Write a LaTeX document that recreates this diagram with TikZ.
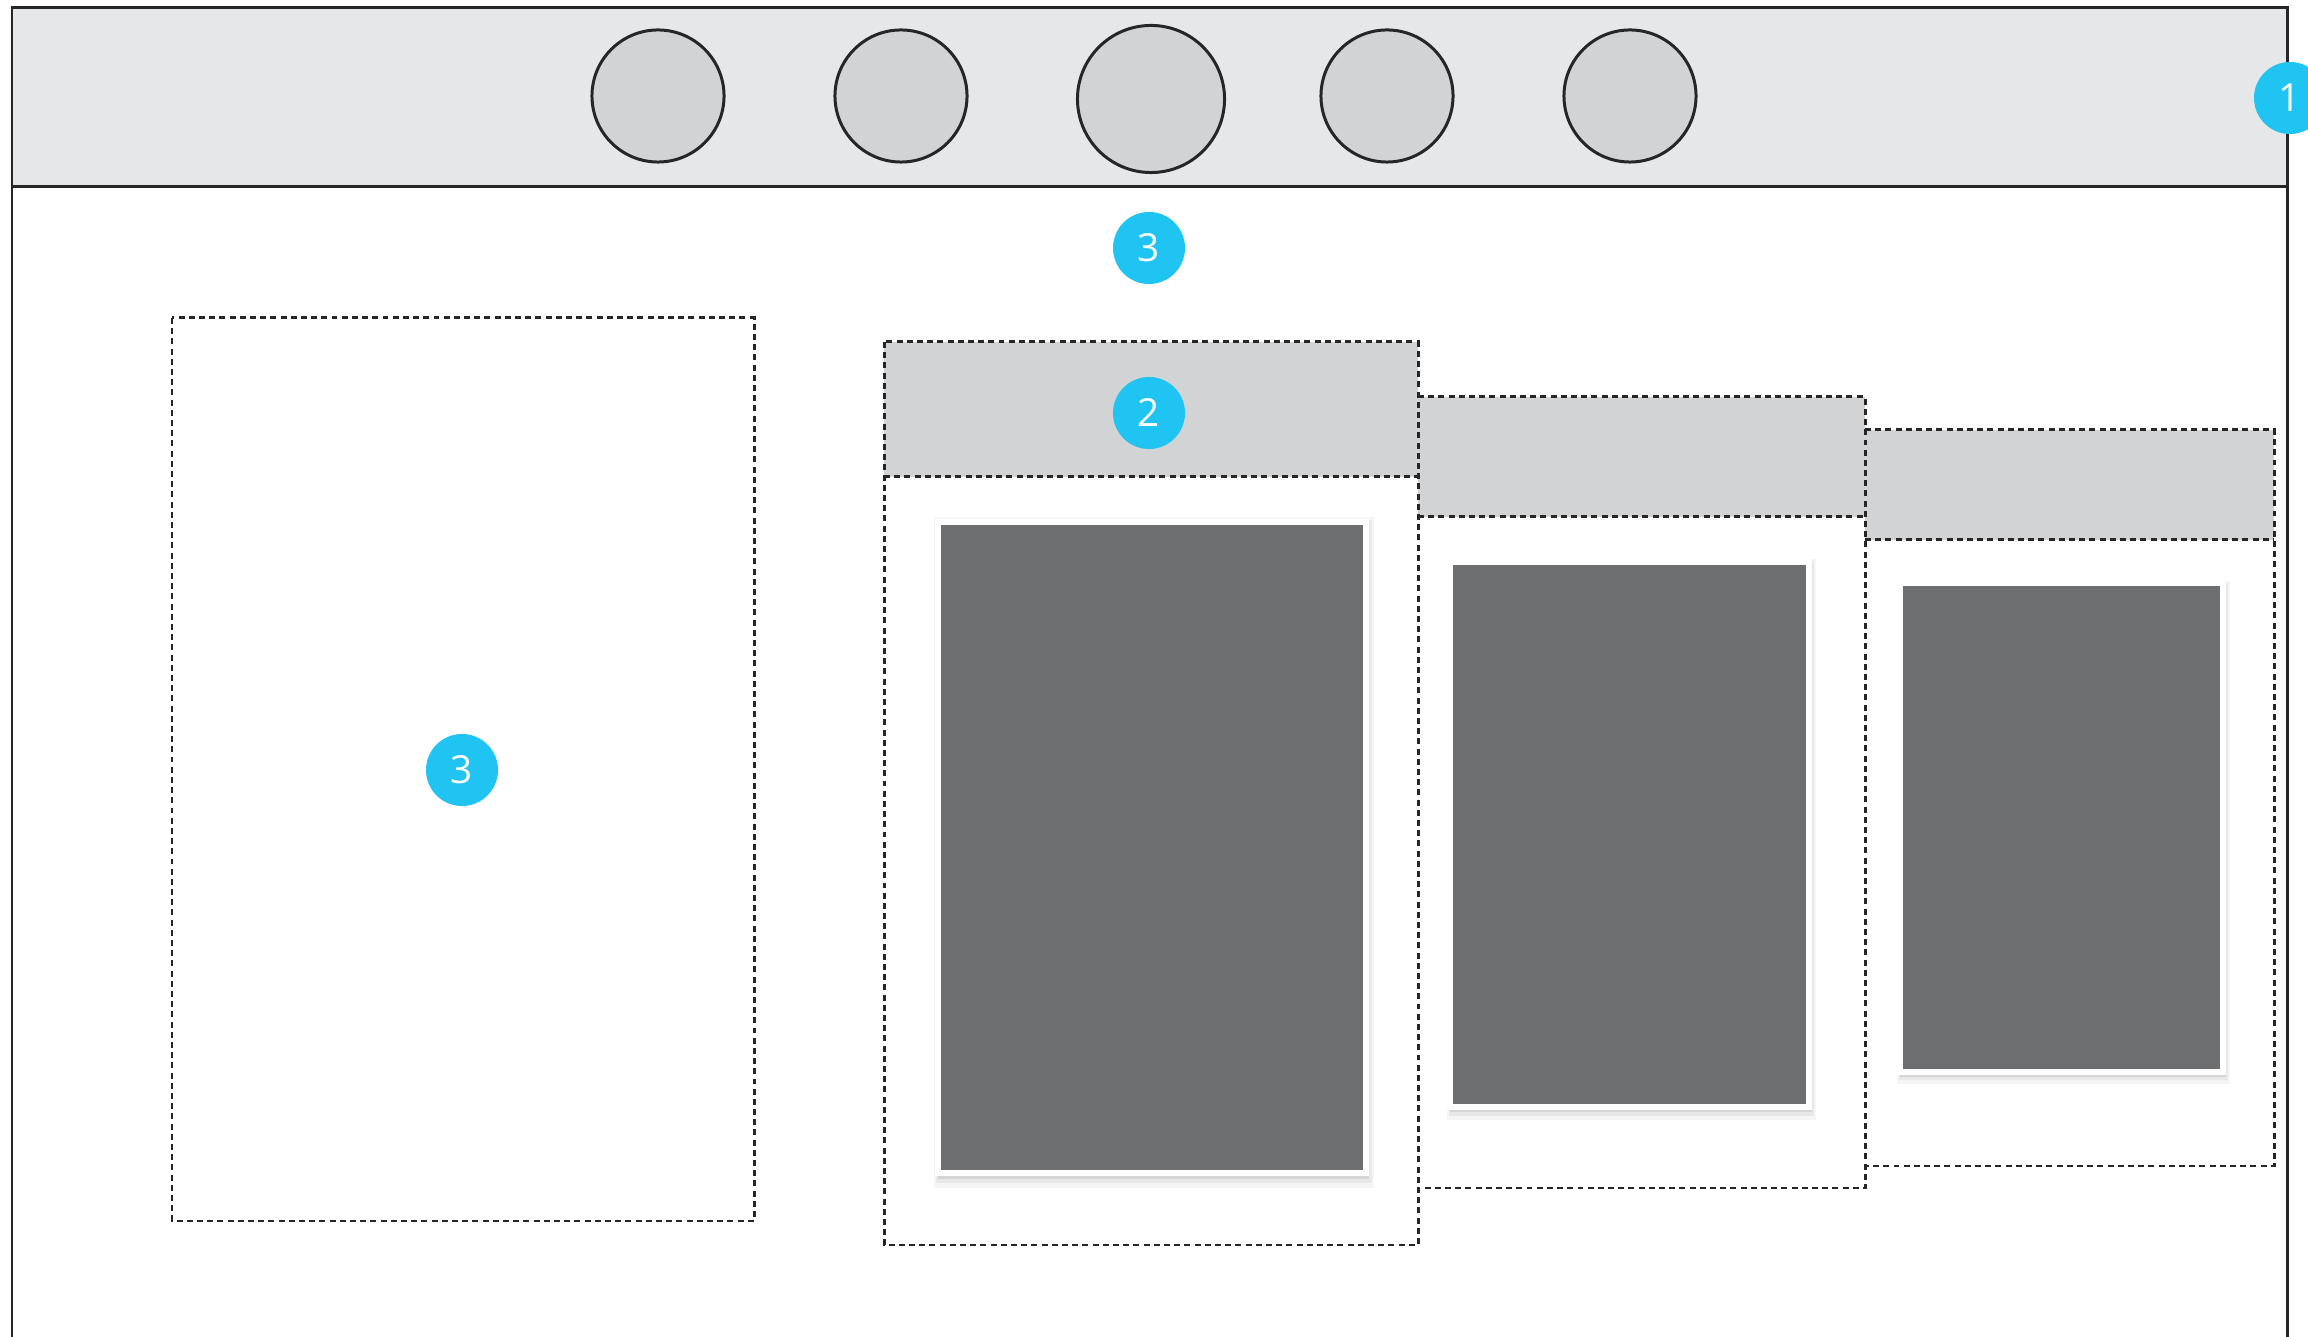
\documentclass[tikz,border=0pt]{standalone}
\usepackage{fontspec}
\setsansfont{Open Sans}
\usetikzlibrary{shadows}
\definecolor{barbg}{HTML}{E6E7E8}
\definecolor{tabbg}{HTML}{D1D3D4}
\definecolor{picbg}{HTML}{6D6E70}
\definecolor{callout}{HTML}{20C4F2}
\begin{document}
\begin{tikzpicture}[x=0.01cm,y=-0.01cm,
  frm/.style={draw=black!85,line width=0.85pt},
  dot/.style={circle,draw=black!85,line width=0.85pt,fill=tabbg,inner sep=0pt},
  dbox/.style={draw=black!85,line width=0.85pt,dash pattern=on 1.7pt off 1.2pt},
  hdr/.style={fill=tabbg},
  photo/.style={draw=white,line width=1.7pt,fill=picbg,
    general shadow={fill=black,opacity=0.04,shadow scale=1.03,shadow xshift=0.2mm,shadow yshift=-0.5mm},
    general shadow={fill=black,opacity=0.06,shadow scale=1.018,shadow xshift=0.2mm,shadow yshift=-0.4mm},
    general shadow={fill=black,opacity=0.08,shadow scale=1.008,shadow xshift=0.15mm,shadow yshift=-0.3mm}},
  badge/.style={circle,fill=callout,text=white,inner sep=0pt,minimum size=0.72cm,
    font=\sffamily\fontsize{11}{11}\selectfont}]
\useasboundingbox (0,0) rectangle (2308,1337);
\clip (0,0) rectangle (2308,1337);
% ---- top bar
\fill[barbg] (12,8) rectangle (2287,187);
\draw[frm] (12,1345) -- (12,8) -- (2287,8) -- (2287,1345);
\draw[frm] (12,187) -- (2287,187);
\foreach \x/\y/\s/\n in {658/96/1.32/1,901/96/1.32/2,1151/99/1.47/3,1387/96/1.32/4,1630/96/1.32/5}{
  \node[dot,minimum size=\s cm] (tab\n) at (\x,\y) {};}
% ---- left box
\draw[dbox] (172,318) rectangle (754,1221);
% ---- panels
\fill[hdr] (884,342) rectangle (1418,477);
\fill[hdr] (1418,397) rectangle (1865,517);
\fill[hdr] (1865,430) rectangle (2274,540);
\draw[dbox] (884,342) rectangle (1418,1245) (884,477) -- (1418,477);
\draw[dbox] (1418,397) -- (1865,397) -- (1865,1188) -- (1418,1188) (1418,517) -- (1865,517);
\draw[dbox] (1865,430) -- (2274,430) -- (2274,1166) -- (1865,1166) (1865,540) -- (2274,540);
\draw[photo] (938,522) rectangle (1366,1173);
\draw[photo] (1450,562) rectangle (1809,1107);
\draw[photo] (1900,583) rectangle (2223,1072);
% ---- callouts
\node[badge] (c1) at (2290,98) {1};
\node[badge] (c2) at (1149,413) {2};
\node[badge] (c3) at (1149,248) {3};
\node[badge] (c4) at (462,770) {3};
\end{tikzpicture}
\end{document}
